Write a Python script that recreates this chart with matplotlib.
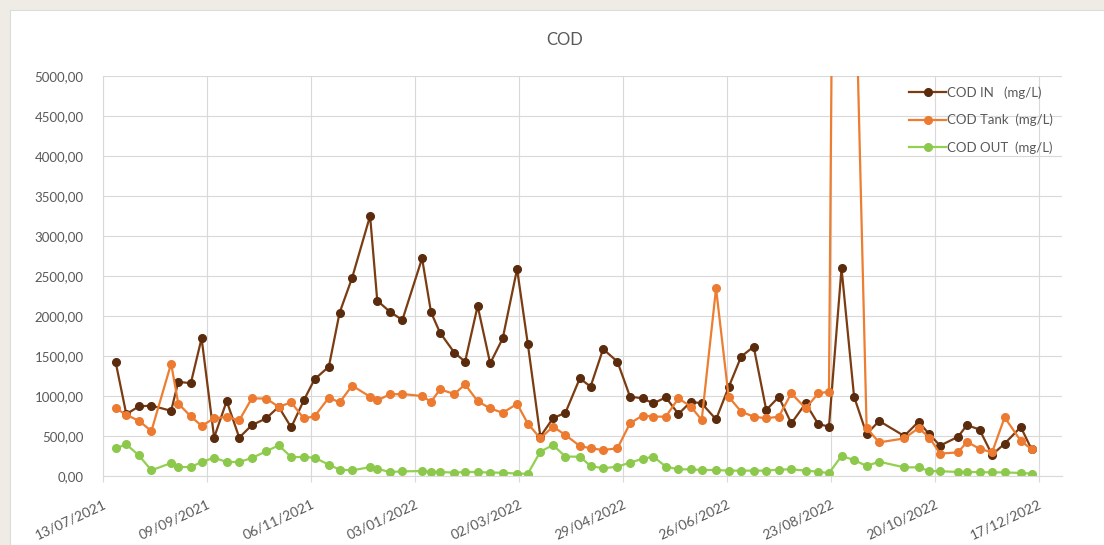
import pandas as pd
import matplotlib.pyplot as plt
import matplotlib.dates as mdates
from matplotlib.ticker import FuncFormatter, MultipleLocator
from matplotlib.patches import Rectangle

# sampling dates
dates = [
    "2021-07-20", "2021-07-26", "2021-08-02", "2021-08-09", "2021-08-20", "2021-08-24",
    "2021-08-31", "2021-09-06", "2021-09-13", "2021-09-20", "2021-09-27", "2021-10-04",
    "2021-10-12", "2021-10-19", "2021-10-26", "2021-11-02", "2021-11-08", "2021-11-16",
    "2021-11-22", "2021-11-29", "2021-12-09", "2021-12-13", "2021-12-20", "2021-12-27",
    "2022-01-07", "2022-01-12", "2022-01-17", "2022-01-25", "2022-01-31", "2022-02-07",
    "2022-02-14", "2022-02-21", "2022-03-01", "2022-03-07", "2022-03-14", "2022-03-21",
    "2022-03-28", "2022-04-05", "2022-04-11", "2022-04-18", "2022-04-26", "2022-05-03",
    "2022-05-10", "2022-05-16", "2022-05-23", "2022-05-30", "2022-06-06", "2022-06-12",
    "2022-06-20", "2022-06-27", "2022-07-04", "2022-07-11", "2022-07-18", "2022-07-25",
    "2022-08-01", "2022-08-09", "2022-08-16", "2022-08-22", "2022-08-29", "2022-09-05",
    "2022-09-12", "2022-09-19", "2022-10-03", "2022-10-11", "2022-10-17", "2022-10-23",
    "2022-11-02", "2022-11-07", "2022-11-14", "2022-11-21", "2022-11-28", "2022-12-07",
    "2022-12-13",
]

cod_in = [
    1430, 773, 870, 880, 815, 1177, 1160, 1722, 480, 937, 480, 635,
    720, 865, 608, 945, 1208, 1367, 2042, 2479, 3252, 2192, 2054, 1950,
    2721, 2046, 1792, 1542, 1429, 2125, 1408, 1721, 2587, 1650, 492, 721,
    792, 1221, 1117, 1587, 1429, 992, 971, 908, 983, 775, 929, 908,
    708, 1108, 1492, 1617, 825, 988, 658, 908, 650, 617, 2596, 992,
    525, 688, 500, 679, 520, 380, 490, 637, 580, 265, 405, 612,
    335,
]

cod_tank = [
    848, 765, 690, 562, 1405, 905, 745, 627, 720, 740, 695, 970,
    968, 865, 920, 720, 745, 980, 920, 1130, 990, 945, 1020, 1025,
    1000, 927, 1083, 1025, 1145, 935, 845, 790, 902, 655, 470, 617,
    512, 375, 346, 325, 346, 658, 756, 742, 742, 971, 867, 700,
    2346, 992, 804, 742, 721, 742, 1033, 846, 1033, 1054, 21000, 7000,
    600, 420, 470, 600, 480, 280, 295, 428, 340, 295, 733, 440,
    335,
]

cod_out = [
    345, 395, 258, 71, 162, 112, 112, 175, 229, 175, 175, 225,
    308, 383, 237, 237, 229, 142, 79, 71, 110, 90, 50, 58,
    62, 54, 50, 42, 50, 50, 42, 42, 29, 29, 304, 387,
    242, 242, 125, 96, 117, 167, 215, 242, 117, 83, 83, 75,
    75, 67, 67, 67, 67, 80, 83, 67, 54, 35, 250, 200,
    125, 179, 108, 108, 62, 60, 50, 50, 48, 45, 45, 38,
    30,
]

tick_start = "2021-07-13"
tick_end = "2022-12-17"

plt.rcParams['font.family'] = ['Lato', 'DejaVu Sans']
grey_text = '#595959'
grid_col = '#d9d9d9'

W, H = 1104, 545
fig = plt.figure(figsize=(W / 100, H / 100), dpi=100, facecolor='#eeece4')
# white chart area inside the beige frame
fig.patches.append(Rectangle((10 / W, 0), 1, 1 - 10 / H, transform=fig.transFigure,
                             facecolor='white', edgecolor='#dcdcdc', lw=0.8, zorder=-1))

ax = fig.add_axes([103 / W, 1 - 476 / H, (1062 - 103) / W, 400 / H])
ax.set_facecolor('none')

x = pd.to_datetime(dates)
ax.plot(x, cod_in, '-o', color='#7b3c12', mfc='#5a2b0c', mec='#5a2b0c',
        lw=1.6, ms=5.5, label='COD IN   (mg/L)')
ax.plot(x, cod_tank, '-o', color='#ed7d31', mfc='#ec7a30', mec='#ec7a30',
        lw=1.6, ms=5.5, label='COD Tank  (mg/L)')
ax.plot(x, cod_out, '-o', color='#92d050', mfc='#8cc84b', mec='#8cc84b',
        lw=1.6, ms=5.5, label='COD OUT  (mg/L)')

ax.set_ylim(0, 5000)
ax.yaxis.set_major_locator(MultipleLocator(500))
ax.yaxis.set_major_formatter(FuncFormatter(lambda v, p: f'{v:.2f}'.replace('.', ',')))

ax.set_xticks(pd.date_range(tick_start, tick_end, freq='58D'))
ax.xaxis.set_major_formatter(mdates.DateFormatter('%d/%m/%Y'))
ax.set_xlim(pd.Timestamp(tick_start), pd.Timestamp('2022-12-30'))

ax.grid(color=grid_col, lw=0.8)
ax.set_axisbelow(True)
for s in ['top', 'right']:
    ax.spines[s].set_visible(False)
for s in ['left', 'bottom']:
    ax.spines[s].set_color(grid_col)
    ax.spines[s].set_linewidth(0.8)

ax.tick_params(axis='y', length=0, pad=14, labelsize=9.5, labelcolor=grey_text)
ax.tick_params(axis='x', length=4, color=grid_col, pad=12, labelsize=10, labelcolor=grey_text)
plt.setp(ax.get_xticklabels(), rotation=25, ha='right', rotation_mode='anchor')

ax.legend(frameon=False, loc='upper left', bbox_to_anchor=(0.8405, 0.975),
          handlelength=2.8, handletextpad=0.1, labelspacing=1.15,
          borderaxespad=0, borderpad=0, fontsize=9.5, labelcolor=grey_text)

fig.text(565 / W, 1 - 40 / H, 'COD', ha='center', va='center', fontsize=12, color=grey_text)

fig.savefig('out.png', dpi=100, facecolor=fig.get_facecolor())
